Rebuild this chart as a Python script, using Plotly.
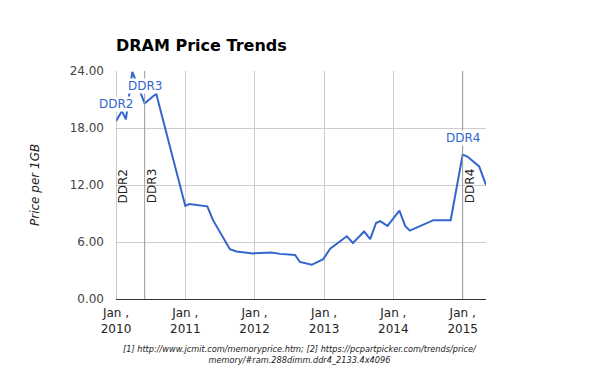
import plotly.graph_objects as go

dates = ["2010-01-01", "2010-02-01", "2010-02-22", "2010-03-28", "2010-06-01", "2010-08-01",
         "2011-01-01", "2011-01-22", "2011-04-27", "2011-05-27", "2011-08-24", "2011-09-28",
         "2011-12-24", "2012-03-31", "2012-05-14", "2012-08-01", "2012-08-27", "2012-10-28",
         "2012-12-28", "2013-02-02", "2013-05-01", "2013-06-02", "2013-07-31", "2013-09-01",
         "2013-10-02", "2013-10-23", "2013-12-01", "2014-02-02", "2014-03-04", "2014-03-29",
         "2014-07-31", "2014-10-30", "2015-01-01", "2015-01-26", "2015-03-29", "2015-05-04"]
prices = [18.7, 19.8, 18.9, 23.9, 20.6, 21.6,
          9.8, 10.0, 9.75, 8.3, 5.24, 5.0,
          4.8, 4.9, 4.75, 4.64, 3.9, 3.6,
          4.2, 5.3, 6.6, 5.9, 7.1, 6.3,
          8.0, 8.2, 7.7, 9.3, 7.7, 7.2,
          8.3, 8.3, 15.2, 15.0, 13.96, 12.0]

gen_labels = ["DDR2", "DDR3", "DDR4"]
gen_dates = ["2010-01-01", "2010-06-01", "2015-01-01"]

year_ticks = ["2010-01-01", "2011-01-01", "2012-01-01", "2013-01-01", "2014-01-01", "2015-01-01"]
year_text = ["Jan ,<br>2010", "Jan ,<br>2011", "Jan ,<br>2012", "Jan ,<br>2013", "Jan ,<br>2014", "Jan ,<br>2015"]
y_ticks = [0, 6, 12, 18, 24]

footnote = ("[1] http://www.jcmit.com/memoryprice.htm; [2] https://pcpartpicker.com/trends/price/<br>"
            "memory/#ram.288dimm.ddr4_2133.4x4096")

FONT = "DejaVu Sans"
BLUE = "#3366cc"

# page body has an 8px margin; figure is sized so it fits the 600x371 window
W, H = 592, 363
OFF = 8
PL, PT, PW, PH = 116 - OFF, 71 - OFF, 370, 228

fig = go.Figure()
fig.add_trace(go.Scatter(x=dates, y=prices, mode="lines",
                         line=dict(color=BLUE, width=2), hoverinfo="skip"))

shapes = []
annotations = []
for lab, d in zip(gen_labels, gen_dates):
    shapes.append(dict(type="line", xref="x", yref="paper", x0=d, x1=d, y0=0, y1=1,
                       line=dict(color="#999999", width=1), layer="above"))
    val = prices[dates.index(d)]
    annotations.append(dict(x=d, y=val, xref="x", yref="y", text=lab, showarrow=False,
                            xanchor="center", yanchor="bottom", yshift=9,
                            font=dict(family=FONT, size=12, color=BLUE),
                            bgcolor="white", borderpad=0))
    annotations.append(dict(x=d, y=0.41, xref="x", yref="paper", text=lab, showarrow=False,
                            textangle=-90, xanchor="center", yanchor="bottom", xshift=7,
                            font=dict(family=FONT, size=12, color="#222222")))

annotations.append(dict(x=(35 - 116) / PW, y=0.5, xref="paper", yref="paper",
                        text="<i>Price per 1GB</i>",
                        showarrow=False, textangle=-90, xanchor="center", yanchor="middle",
                        font=dict(family=FONT, size=12, color="#222222")))
annotations.append(dict(x=(300 - 116) / PW, y=(299 - 354) / PH, xref="paper", yref="paper",
                        text="<i>" + footnote + "</i>",
                        showarrow=False, xanchor="center", yanchor="middle",
                        font=dict(family=FONT, size=8.2, color="#222222")))

fig.update_layout(
    width=W, height=H,
    margin=dict(l=PL, r=W - PL - PW, t=PT, b=H - PT - PH, pad=0),
    paper_bgcolor="white", plot_bgcolor="white",
    showlegend=False,
    title=dict(text="<b>DRAM Price Trends</b>", x=(116 - OFF) / W, xanchor="left",
               y=1 - (45 - OFF) / H, yanchor="middle", xref="container", yref="container",
               font=dict(family=FONT, size=16, color="black")),
    font=dict(family=FONT, size=12, color="#222222"),
    shapes=shapes,
    annotations=annotations,
)

fig.update_xaxes(range=["2010-01-01", "2015-05-04"], tickvals=year_ticks, ticktext=year_text,
                 showgrid=True, gridcolor="#cccccc", gridwidth=1,
                 showline=True, linecolor="#333333", linewidth=1, ticks="",
                 ticklabelstandoff=3,
                 tickfont=dict(family=FONT, size=12, color="#222222"), zeroline=False)
fig.update_yaxes(range=[0, 24], tickvals=y_ticks, tickformat=".2f",
                 showgrid=True, gridcolor="#cccccc", gridwidth=1, zeroline=False,
                 showline=False, ticks="", ticklabelstandoff=11,
                 tickfont=dict(family=FONT, size=12, color="#444444"))

fig.write_html("out.html")
